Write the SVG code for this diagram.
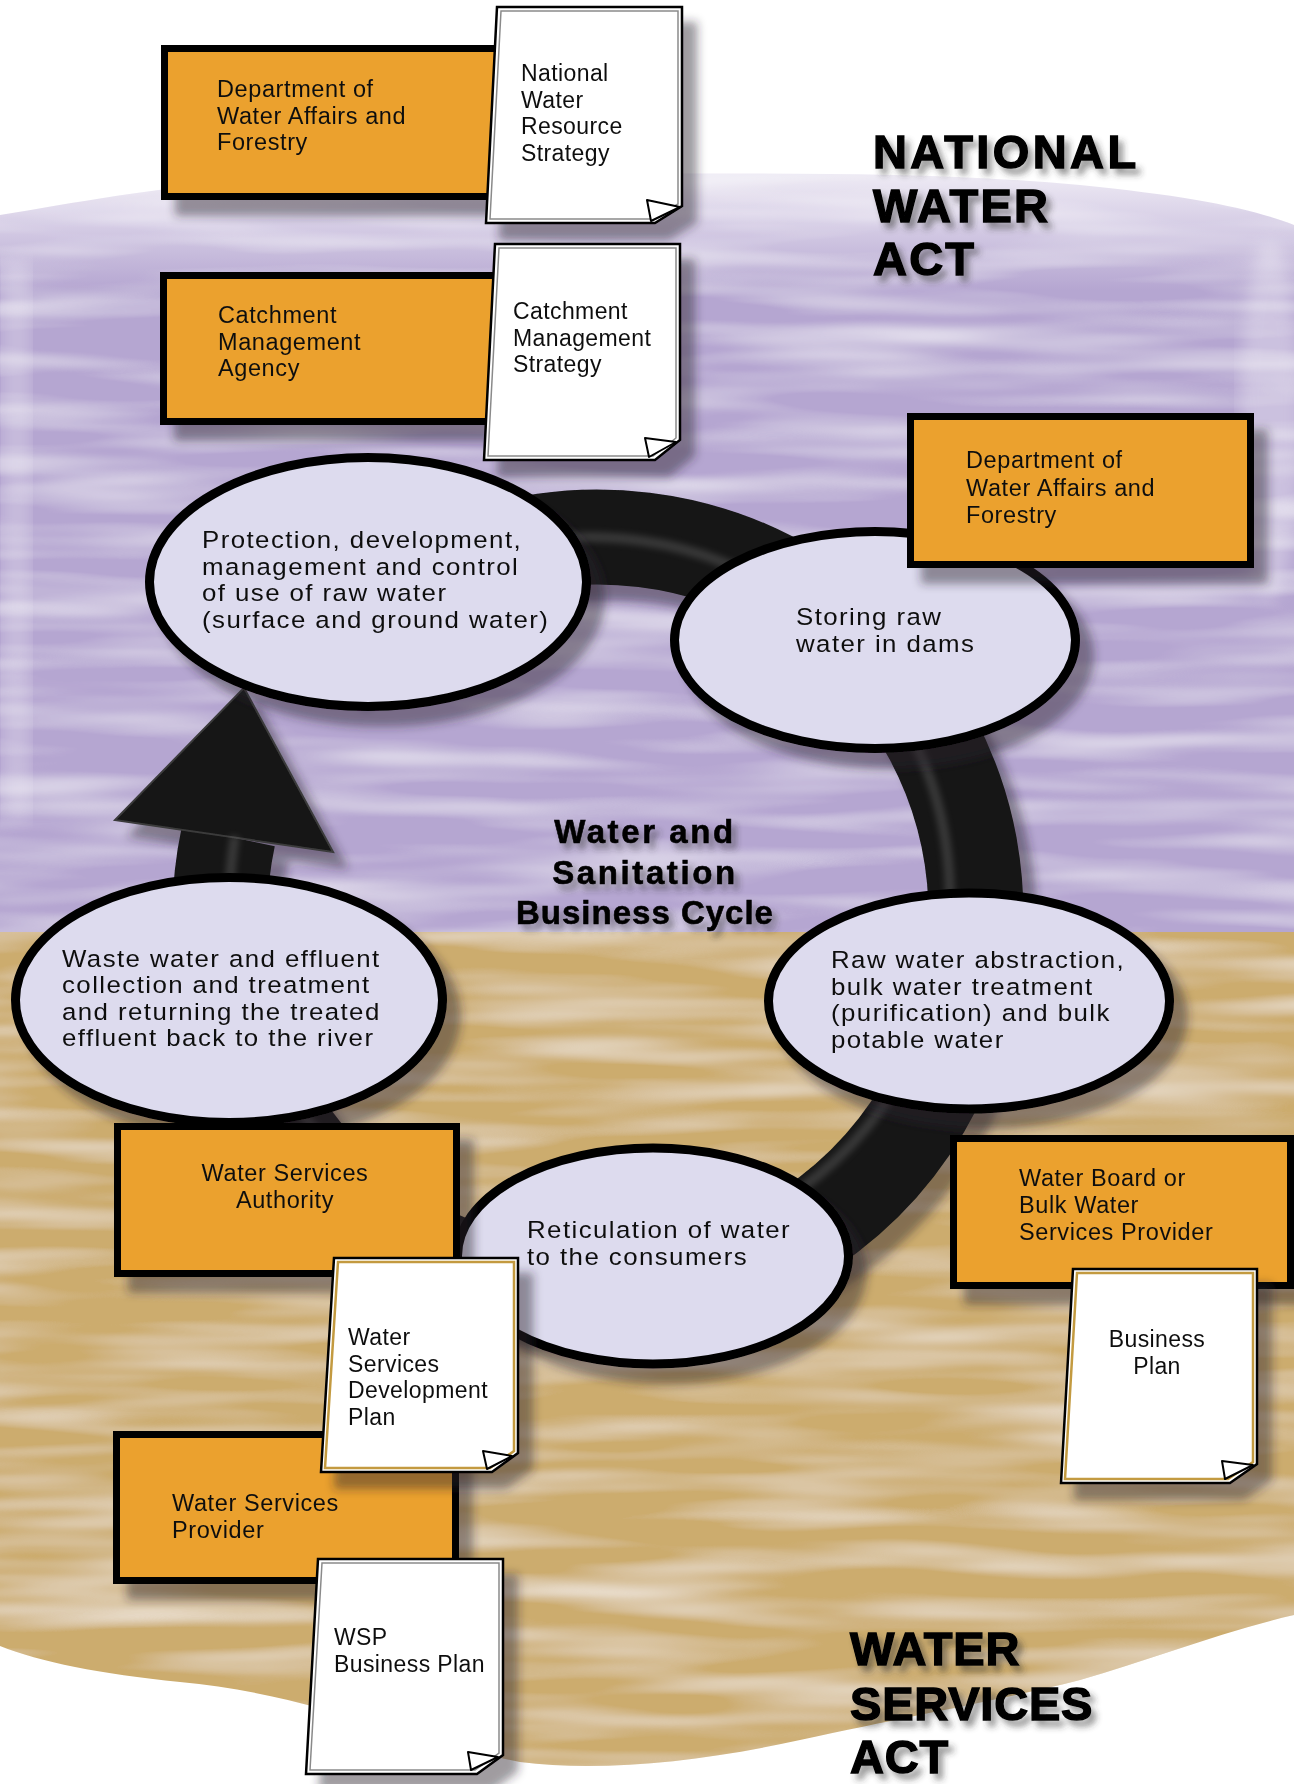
<svg xmlns="http://www.w3.org/2000/svg" width="1294" height="1784" viewBox="0 0 1294 1784">
<defs>
<style>
.bx{fill:#eba12d;stroke:#000;stroke-width:7}
.el{fill:#dddbee;stroke:#000;stroke-width:9}
.doc{fill:#fff;stroke:#000;stroke-width:2.5}
.din{fill:none;stroke:#8a8a8a;stroke-width:1.5}
.dinT{fill:none;stroke:#c39a3f;stroke-width:2.5}
.fold{fill:#fff;stroke:#000;stroke-width:2;stroke-linejoin:round}
.t{font-family:"Liberation Sans",Arial,sans-serif;font-size:23.5px;fill:#111;letter-spacing:0.6px}
.te{letter-spacing:1.3px}
.td{font-size:23px;letter-spacing:0.4px}
.mid{text-anchor:middle}
.h{font-family:"Liberation Sans",Arial,sans-serif;font-weight:bold;font-size:47px;fill:#000;stroke:#000;stroke-width:1.4}
.hn{letter-spacing:2.2px}
.hw{letter-spacing:0.8px}
.c{font-family:"Liberation Sans",Arial,sans-serif;font-weight:bold;font-size:33px;letter-spacing:1px;fill:#000;stroke:#000;stroke-width:0.6;text-anchor:middle}
</style>
<linearGradient id="pg" gradientUnits="userSpaceOnUse" x1="0" y1="140" x2="0" y2="290">
<stop offset="0" stop-color="#ffffff"/>
<stop offset="1" stop-color="#b5a6d1"/>
</linearGradient>
<filter id="grain" x="0" y="0" width="100%" height="100%">
<feTurbulence type="fractalNoise" baseFrequency="0.004 0.04" numOctaves="2" seed="7" result="n"/>
<feColorMatrix in="n" type="matrix" values="0 0 0 0 1  0 0 0 0 1  0 0 0 0 1  1 0 0 0 -0.4" result="w"/>
<feComposite in="w" in2="SourceGraphic" operator="in" result="wi"/>
<feMerge><feMergeNode in="SourceGraphic"/><feMergeNode in="wi"/></feMerge>
</filter>
<filter id="sh" x="-10%" y="-10%" width="130%" height="140%">
<feGaussianBlur in="SourceAlpha" stdDeviation="5"/>
<feOffset dx="14" dy="16" result="b"/>
<feFlood flood-color="#2a2430" flood-opacity="0.45"/>
<feComposite in2="b" operator="in"/>
<feMerge><feMergeNode/><feMergeNode in="SourceGraphic"/></feMerge>
</filter>
<filter id="tsh" x="-10%" y="-10%" width="130%" height="140%">
<feGaussianBlur in="SourceAlpha" stdDeviation="3"/>
<feOffset dx="5" dy="6" result="b"/>
<feFlood flood-color="#333" flood-opacity="0.5"/>
<feComposite in2="b" operator="in"/>
<feMerge><feMergeNode/><feMergeNode in="SourceGraphic"/></feMerge>
</filter>
<filter id="blur8"><feGaussianBlur stdDeviation="8"/></filter>
<filter id="blur3"><feGaussianBlur stdDeviation="3"/></filter>
<marker id="ah" viewBox="0 0 32 22" refX="0" refY="11" markerWidth="32" markerHeight="22" markerUnits="userSpaceOnUse" orient="auto-start-reverse">
<path d="M0,0 L32,11 L0,22 z" fill="#000"/>
</marker>
</defs>

<g id="background">
<rect x="0" y="0" width="1294" height="1784" fill="#fff"/>
<g filter="url(#grain)">
<path d="M0,215 C120,195 260,168 480,172 C700,176 900,168 1080,185 C1190,196 1250,208 1294,225 L1294,932 L0,932 Z" fill="url(#pg)"/>
<path d="M0,932 L1294,932 L1294,1615 C1220,1632 1150,1660 1080,1680 C1000,1700 920,1714 800,1740 C700,1762 600,1772 520,1762 C420,1742 300,1692 180,1682 C100,1674 40,1662 0,1646 Z" fill="#ccac6e"/>
</g>
<rect x="4" y="260" width="26" height="560" fill="#fff" opacity="0.25" filter="url(#blur8)"/>
<ellipse cx="1270" cy="420" rx="30" ry="180" fill="#fff" opacity="0.3" filter="url(#blur8)"/>
</g>

<g id="connectors">
<g filter="url(#sh)">
<path d="M317.1,662.1 A378,378 0 1 1 228.3,836.4" fill="none" stroke="#141414" stroke-width="95"/>
<polygon points="115,820 333,852 244,688" fill="#141414" stroke="#3a3a3a" stroke-width="2"/>
</g>
<path d="M317.1,662.1 A360,360 0 1 1 235,836.4" fill="none" stroke="#777" stroke-width="10" opacity="0.35" filter="url(#blur3)"/>
<line x1="212" y1="1322" x2="212" y2="1392" stroke="#000" stroke-width="9" marker-start="url(#ah)" marker-end="url(#ah)" filter="url(#sh)"/>
</g>

<g id="e-protection" filter="url(#sh)">
<ellipse class="el" cx="368" cy="582" rx="218.5" ry="124.5"/>
<text class="t te" transform="translate(202,548) scale(1.1,1)"><tspan x="0" y="0">Protection, development,</tspan><tspan x="0" dy="26.7">management and control</tspan><tspan x="0" dy="26.7">of use of raw water</tspan><tspan x="0" dy="26.7">(surface and ground water)</tspan></text>
</g>

<g id="e-storing" filter="url(#sh)">
<ellipse class="el" cx="875" cy="640" rx="200.5" ry="108.5"/>
<text class="t te" transform="translate(796,625) scale(1.1,1)"><tspan x="0" y="0">Storing raw</tspan><tspan x="0" dy="27">water in dams</tspan></text>
</g>

<g id="e-waste" filter="url(#sh)">
<ellipse class="el" cx="229" cy="1000" rx="213.5" ry="122.5"/>
<text class="t te" transform="translate(62,967) scale(1.1,1)"><tspan x="0" y="0">Waste water and effluent</tspan><tspan x="0" dy="26.5">collection and treatment</tspan><tspan x="0" dy="26.5">and returning the treated</tspan><tspan x="0" dy="26.5">effluent back to the river</tspan></text>
</g>

<g id="e-raw" filter="url(#sh)">
<ellipse class="el" cx="969" cy="1001" rx="200.5" ry="108"/>
<text class="t te" transform="translate(831,968) scale(1.1,1)"><tspan x="0" y="0">Raw water abstraction,</tspan><tspan x="0" dy="26.7">bulk water treatment</tspan><tspan x="0" dy="26.7">(purification) and bulk</tspan><tspan x="0" dy="26.7">potable water</tspan></text>
</g>

<g id="e-reticulation" filter="url(#sh)">
<ellipse class="el" cx="653" cy="1256" rx="195.5" ry="108"/>
<text class="t te" transform="translate(527,1238) scale(1.1,1)"><tspan x="0" y="0">Reticulation of water</tspan><tspan x="0" dy="27">to the consumers</tspan></text>
</g>

<g id="cycle-title" filter="url(#tsh)">
<text class="c" x="645" y="843"><tspan x="645" style="letter-spacing:2.6px">Water and</tspan><tspan x="645" dy="40.5" style="letter-spacing:2.6px">Sanitation</tspan><tspan x="645" dy="40.5">Business Cycle</tspan></text>
</g>

<g id="b-dwaf1" filter="url(#sh)">
<rect class="bx" x="164.5" y="48.5" width="352" height="148"/>
<text class="t" x="217" y="97"><tspan x="217">Department of</tspan><tspan x="217" dy="26.7">Water Affairs and</tspan><tspan x="217" dy="26.7">Forestry</tspan></text>
</g>

<g id="d-nwrs" filter="url(#sh)">
<polygon class="doc" points="497,7 682,7 682,206 655,223 486,223"/>
<polygon class="din" points="501,11 678,11 678,204 653,219 490,219"/>
<polygon class="fold" points="647,200 651,221 680,207"/>
<text class="t td" x="521" y="81"><tspan x="521">National</tspan><tspan x="521" dy="26.7">Water</tspan><tspan x="521" dy="26.7">Resource</tspan><tspan x="521" dy="26.7">Strategy</tspan></text>
</g>

<g id="b-cma" filter="url(#sh)">
<rect class="bx" x="163.5" y="275.5" width="352" height="146"/>
<text class="t" x="218" y="323"><tspan x="218">Catchment</tspan><tspan x="218" dy="26.7">Management</tspan><tspan x="218" dy="26.7">Agency</tspan></text>
</g>

<g id="d-cms" filter="url(#sh)">
<polygon class="doc" points="495,244 680,244 680,440 655,460 484,460"/>
<polygon class="din" points="499,248 676,248 676,438 653,456 488,456"/>
<polygon class="fold" points="645,438 649,457 676,442"/>
<text class="t td" x="513" y="319"><tspan x="513">Catchment</tspan><tspan x="513" dy="26.5">Management</tspan><tspan x="513" dy="26.5">Strategy</tspan></text>
</g>

<g id="b-dwaf2" filter="url(#sh)">
<rect class="bx" x="910.5" y="416.5" width="340" height="148"/>
<text class="t" x="966" y="468"><tspan x="966">Department of</tspan><tspan x="966" dy="27.5">Water Affairs and</tspan><tspan x="966" dy="27.5">Forestry</tspan></text>
</g>

<g id="b-waterboard" filter="url(#sh)">
<rect class="bx" x="953.5" y="1138.5" width="337" height="147"/>
<text class="t" x="1019" y="1186"><tspan x="1019">Water Board or</tspan><tspan x="1019" dy="27">Bulk Water</tspan><tspan x="1019" dy="27">Services Provider</tspan></text>
</g>

<g id="d-businessplan" filter="url(#sh)">
<polygon class="doc" points="1073,1269 1257,1269 1257,1464 1230,1483 1061,1483"/>
<polygon class="dinT" points="1077,1273 1253,1273 1253,1462 1228,1479 1065,1479"/>
<polygon class="fold" points="1222,1461 1225,1479 1253,1465"/>
<text class="t td mid" x="1157" y="1347"><tspan x="1157">Business</tspan><tspan x="1157" dy="26.5">Plan</tspan></text>
</g>

<g id="b-wsa" filter="url(#sh)">
<rect class="bx" x="117.5" y="1126.5" width="339" height="147"/>
<text class="t mid" x="285" y="1181"><tspan x="285">Water Services</tspan><tspan x="285" dy="26.5">Authority</tspan></text>
</g>

<g id="b-wsp" filter="url(#sh)">
<rect class="bx" x="116.5" y="1434.5" width="339" height="146"/>
<text class="t" x="172" y="1511"><tspan x="172">Water Services</tspan><tspan x="172" dy="27">Provider</tspan></text>
</g>

<g id="d-wsdp" filter="url(#sh)">
<polygon class="doc" points="334,1258 518,1258 518,1453 492,1472 321,1472"/>
<polygon class="dinT" points="338,1262 514,1262 514,1451 490,1468 325,1468"/>
<polygon class="fold" points="483,1451 487,1469 512,1456"/>
<text class="t td" x="348" y="1345"><tspan x="348">Water</tspan><tspan x="348" dy="26.7">Services</tspan><tspan x="348" dy="26.7">Development</tspan><tspan x="348" dy="26.7">Plan</tspan></text>
</g>

<g id="d-wspbp" filter="url(#sh)">
<polygon class="doc" points="318,1559 503,1559 503,1755 477,1774 306,1774"/>
<polygon class="din" points="322,1563 499,1563 499,1753 475,1770 310,1770"/>
<polygon class="fold" points="468,1752 471,1770 498,1757"/>
<text class="t td" x="334" y="1645"><tspan x="334">WSP</tspan><tspan x="334" dy="27">Business Plan</tspan></text>
</g>

<g id="title-nwa" filter="url(#tsh)">
<text class="h hn" x="873" y="168"><tspan x="873" style="letter-spacing:3.4px">NATIONAL</tspan><tspan x="873" dy="54">WATER</tspan><tspan x="873" dy="53">ACT</tspan></text>
</g>

<g id="title-wsa" filter="url(#tsh)">
<text class="h hw" x="850" y="1665"><tspan x="850">WATER</tspan><tspan x="850" dy="55">SERVICES</tspan><tspan x="850" dy="53">ACT</tspan></text>
</g>
</svg>
